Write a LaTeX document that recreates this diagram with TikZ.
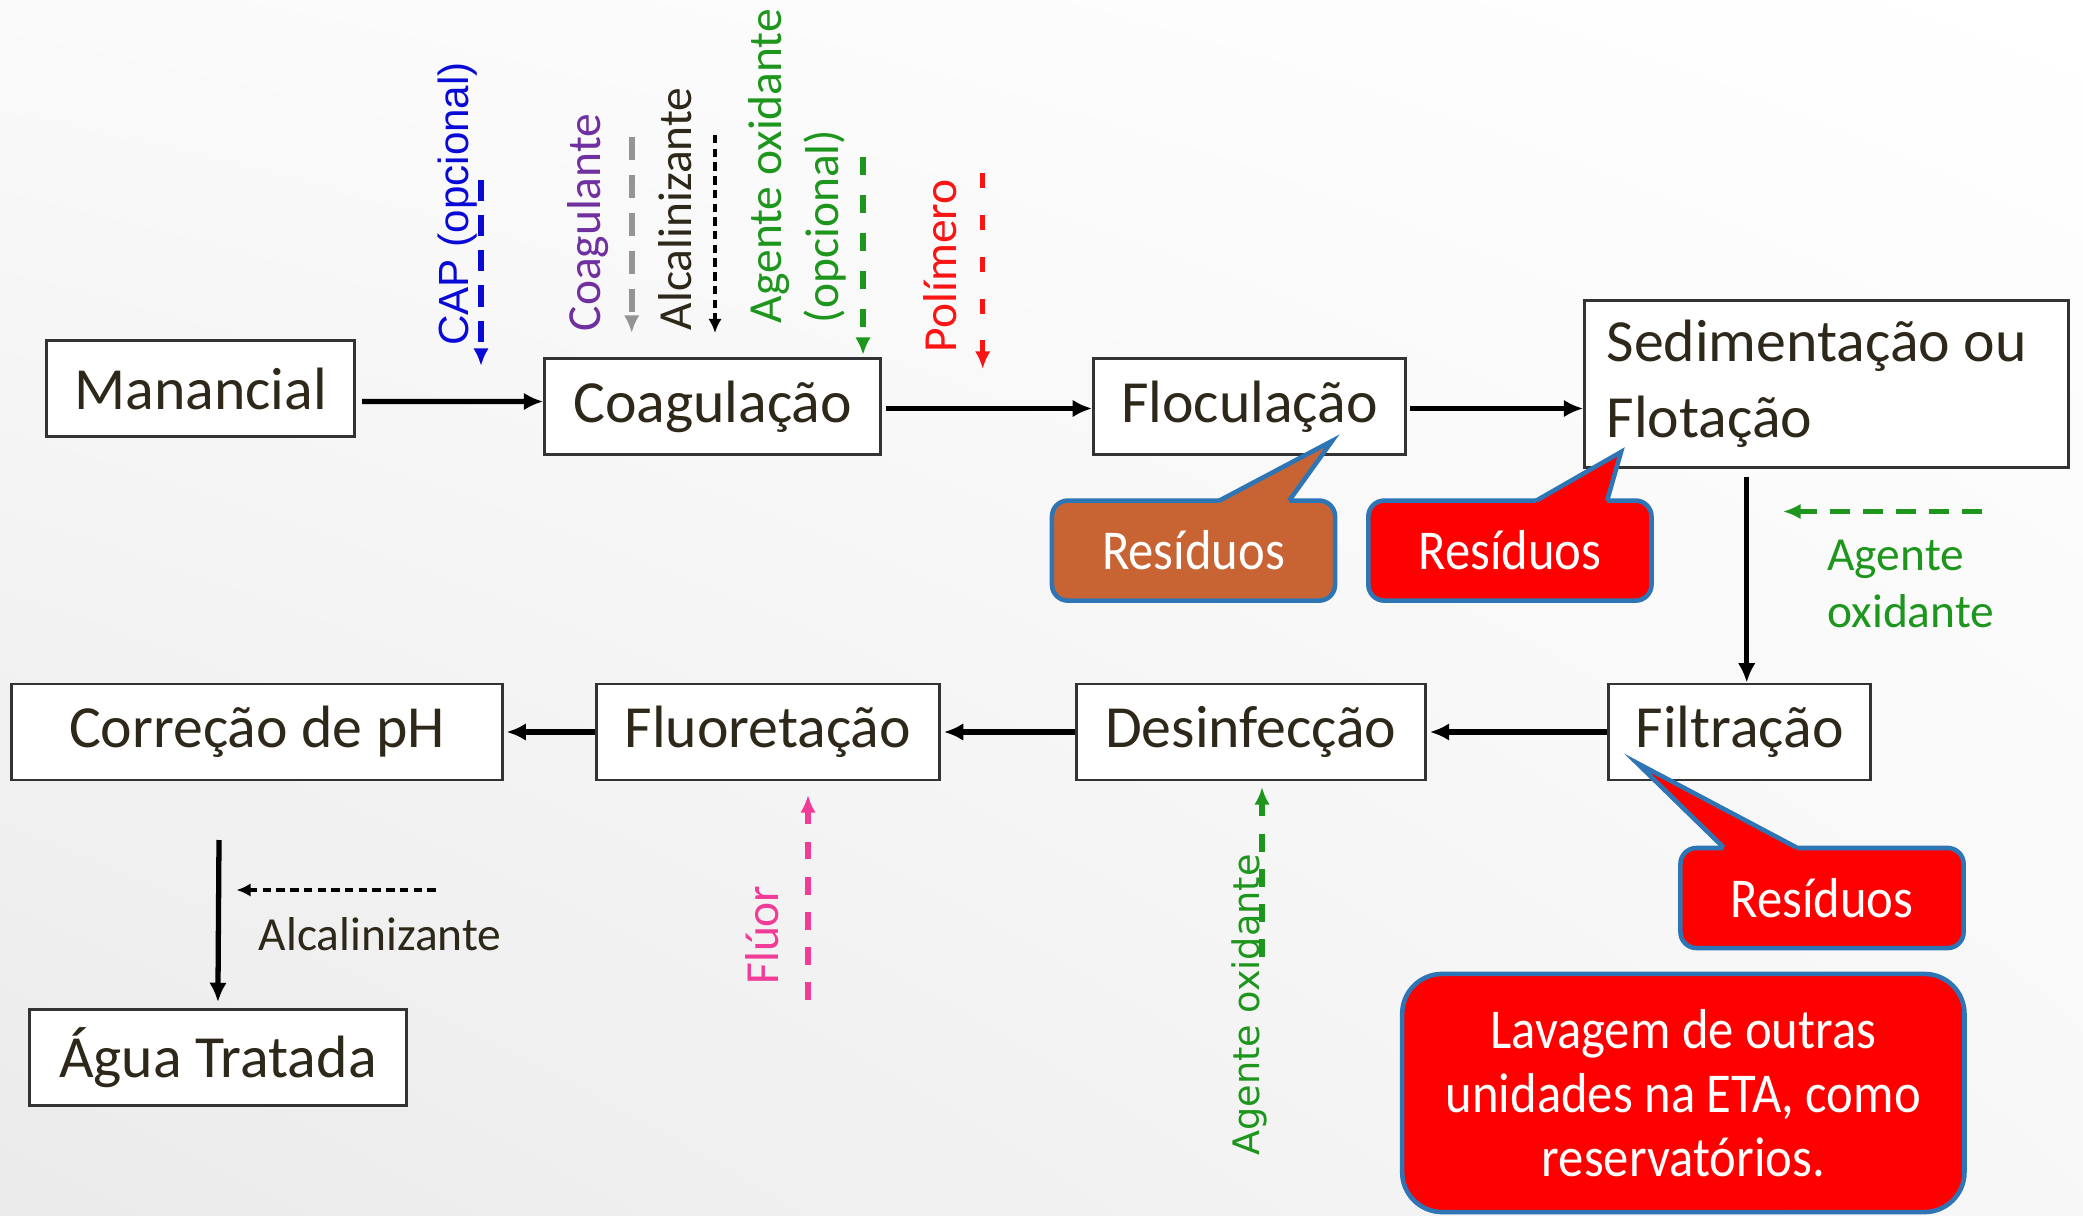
\documentclass[tikz,border=0pt]{standalone}
\usepackage{fontspec}
\setmainfont{Carlito}
\newfontfamily\arialfont{Liberation Sans}
\newfontfamily\verdanafont{DejaVu Sans}
\newfontfamily\calloutfont[FakeStretch=0.9]{Carlito}
\usetikzlibrary{arrows.meta,calc,shadings}
\definecolor{boxtext}{RGB}{45,40,25}
\definecolor{capblue}{RGB}{10,10,215}
\definecolor{coagpurple}{RGB}{112,48,160}
\definecolor{oxgreen}{RGB}{30,150,30}
\definecolor{polred}{RGB}{250,20,20}
\definecolor{fluorpink}{RGB}{240,60,150}
\definecolor{resbrown}{RGB}{200,100,52}
\definecolor{resred}{RGB}{255,0,0}
\definecolor{resedge}{RGB}{46,117,182}

\begin{document}
\begin{tikzpicture}[x=0.01cm,y=-0.01cm,>={Latex[length=5.5pt,width=5pt]},
  stage/.style={draw=black!80,line width=0.8pt,text=boxtext,inner sep=0pt,fill=white,
    font=\fontsize{17}{21.5}\selectfont,minimum height=0.96cm},
  flow/.style={->,line width=1.5pt},
  feed/.style={-{Latex[length=5pt,width=4.4pt]},line width=1.5pt},
  feedfine/.style={-{Latex[length=4pt,width=3.8pt]},line width=0.9pt,dash pattern=on 2.4pt off 1.5pt},
  tag/.style={font=\fontsize{13.5}{16.2}\selectfont},
  residuo/.style={draw=resedge,line width=1.3pt,rounded corners=0.16cm,text=white,
    font=\calloutfont\fontsize{16}{18.2}\selectfont,minimum width=2.83cm,minimum height=1cm}]

\useasboundingbox (0,0) rectangle (2083,1216);
\shade[upper left=black!2,upper right=white,lower left=black!8,lower right=black!3] (0,0) rectangle (2083,1216);

\node[stage,minimum width=3.08cm] (man) at (200.6,388.6) {Manancial};
\node[stage,minimum width=3.36cm] (coag) at (712.7,406.5) {Coagulação};
\node[stage,minimum width=3.12cm] (floc) at (1249.5,406.5) {Floculação};
\node[stage,minimum width=4.84cm,minimum height=1.67cm,text width=4.4cm,align=flush left] (sed) at (1826.7,383.9) {Sedimentação ou\\Flotação};
\node[stage,minimum width=2.62cm] (filt) at (1739.7,732) {Filtração};
\node[stage,minimum width=3.49cm] (desinf) at (1250.8,732) {Desinfecção};
\node[stage,minimum width=3.43cm] (fluor) at (767.9,732) {Fluoretação};
\node[stage,minimum width=4.90cm] (ph) at (257,732) {Correção de pH};
\node[stage,minimum width=3.77cm] (agua) at (217.9,1057.5) {Água Tratada};

\draw[flow] ($(man.east)+(6,13)$) -- ($(coag.west)+(0,-5)$);
\draw[flow] ($(coag.east)+(4,2)$) -- ($(floc.west)+(0,2)$);
\draw[flow] ($(floc.east)+(3,2)$) -- ($(floc.east -| sed.west)+(0,2)$);
\draw[flow] ($(sed.south)+(-80,8)$) -- ($(filt.north)+(7,0)$);
\draw[flow] (filt.west) -- ($(desinf.east)+(3,0)$);
\draw[flow] (desinf.west) -- ($(fluor.east)+(3,0)$);
\draw[flow] (fluor.west) -- ($(ph.east)+(3,0)$);
\coordinate (phout) at (219,840);
\draw[flow] (phout) -- ($(agua.north)+(0,-6)$);

\node[rotate=90,text=capblue,font=\arialfont\fontsize{12}{14}\selectfont] (cap) at (458,204) {CAP (opcional)};
\coordinate (capin) at (481,180);
\draw[feed,capblue,dash pattern=on 6pt off 4pt] (capin) -- (481,366);
\node[tag,rotate=90,text=coagpurple] (coagl) at (588.5,222.5) {Coagulante};
\coordinate (coagin) at (631.7,136.7);
\draw[feed,black!42,line width=1.7pt,dash pattern=on 6.6pt off 4.2pt] (coagin) -- (631.7,333);
\node[tag,rotate=90,text=boxtext] (alc) at (675,209) {Alcalinizante};
\coordinate (alcin) at (715,135);
\draw[feedfine] (alcin) -- (715,333);
\node[tag,rotate=90,text=oxgreen,align=flush left] (ox) at (797,166) {Agente oxidante\\(opcional)};
\coordinate (oxin) at (863,157);
\draw[feed,oxgreen,dash pattern=on 5.2pt off 5.6pt] (oxin) -- (863,355);
\node[tag,rotate=90,text=polred] (pol) at (940.6,265.7) {Polímero};
\coordinate (polin) at (982.7,173);
\draw[feed,polred,dash pattern=on 4.3pt off 7.6pt] (polin) -- (982.7,369);

\coordinate (oxrin) at (1982,511.5);
\coordinate (oxrout) at (1783,511.5);
\draw[feed,oxgreen,line width=1.6pt,dash pattern=on 5.6pt off 3.8pt] (oxrin) -- (oxrout);
\node[tag,text=oxgreen,align=flush left,anchor=west] (oxr) at (1815,584) {Agente\\oxidante};

\coordinate (alcbin) at (435.7,890);
\coordinate (alcbout) at (236.5,890);
\draw[feedfine] (alcbin) -- (alcbout);
\node[tag,text=boxtext] (alcb) at (380,934) {Alcalinizante};

\node[tag,rotate=90,text=fluorpink] (fl) at (762,935) {Flúor};
\coordinate (flin) at (808,1000);
\draw[feed,fluorpink,dash pattern=on 5pt off 5pt] (flin) -- (808,795);

\node[rotate=90,text=oxgreen,font=\verdanafont\fontsize{10.4}{12}\selectfont] (oxd) at (1249,1005) {Agente oxidante};
\coordinate (oxdin) at (1262,957);
\draw[feed,oxgreen,dash pattern=on 5pt off 5pt] (oxdin) -- (1262,787);

\node[residuo,fill=resbrown] (res1) at (1193.5,550.6) {Resíduos};
\fill[resbrown] (1219,500.8) -- (1332,441) -- (1289,500.8) -- (1289,507) -- (1219,507) -- cycle;
\draw[resedge,line width=1.3pt] (1219,500.8) -- (1332,441) -- (1289,500.8);

\node[residuo,fill=resred] (res2) at (1509.9,550.6) {Resíduos};
\fill[resred] (1536,500.8) -- (1621,452) -- (1607,500.8) -- (1607,507) -- (1536,507) -- cycle;
\draw[resedge,line width=1.3pt] (1536,500.8) -- (1621,452) -- (1607,500.8);

\node[residuo,fill=resred] (res3) at (1822,898) {Resíduos};
\fill[resred] (1723.7,847.6) -- (1637,763) -- (1796.7,847.6) -- (1796.7,854) -- (1723.7,854) -- cycle;
\draw[resedge,line width=1.3pt] (1723.7,847.6) -- (1637,763) -- (1796.7,847.6);

\node[residuo,fill=resred,rounded corners=0.4cm,minimum width=5.62cm,minimum height=2.38cm,align=center] (lav) at (1683.3,1093) {Lavagem de outras\\unidades na ETA, como\\reservatórios.};

\end{tikzpicture}
\end{document}
